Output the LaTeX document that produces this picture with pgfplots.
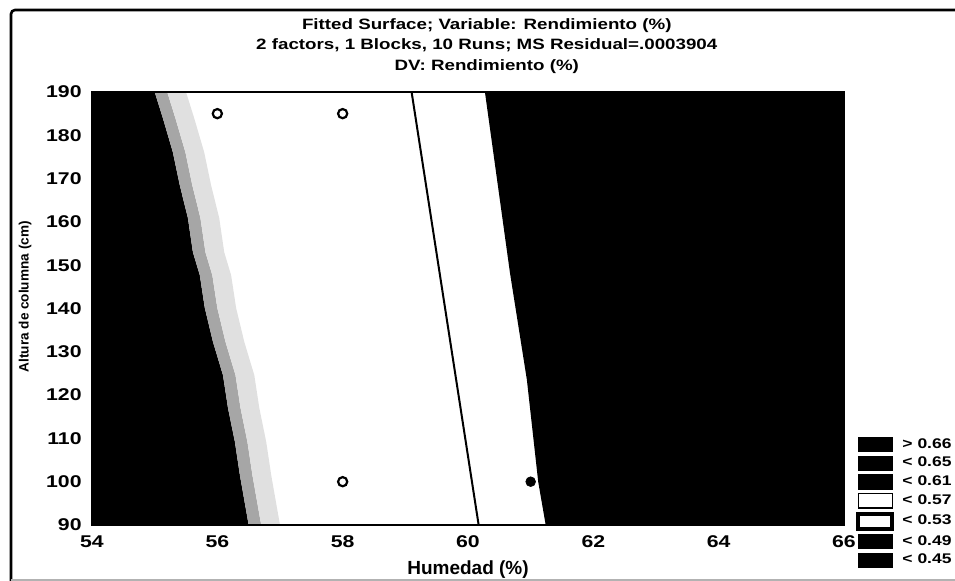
\documentclass[border=0pt]{standalone}
\usepackage{pgfplots}
\pgfplotsset{compat=1.18}
\usepackage{fontspec}
\setmainfont{Liberation Sans}
\newfontfamily\wide{Liberation Sans}[FakeStretch=1.25]
\usetikzlibrary{calc}

\begin{document}
\begin{tikzpicture}
\begin{axis}[
  scale only axis,
  width=376pt, height=216.5pt,
  xmin=54, xmax=66, ymin=90, ymax=190,
  xtick={54,56,...,66}, ytick={90,100,...,190},
  major tick length=0pt,
  axis line style={line width=1.1pt},
  axis on top,
  /pgf/number format/assume math mode=true,
  ticklabel style={font=\wide\bfseries\fontsize{8.5}{9}\selectfont, inner sep=0pt},
  xticklabel shift=5pt, yticklabel shift=5pt,
  title={Fitted Surface; Variable: Rendimiento (\%)\\2 factors, 1 Blocks, 10 Runs; MS Residual=.0003904\\DV: Rendimiento (\%)},
  title style={at={(0.525,1.014)}, anchor=south, inner sep=0pt, align=center,
    font=\wide\bfseries\fontsize{7.5}{10.25}\selectfont},
  xlabel={Humedad (\%)},
  xlabel style={at={(0.5,-0.104)}, anchor=center, inner sep=0pt, font=\bfseries\fontsize{9.5}{10}\selectfont},
  ylabel={Altura de columna (cm)},
  ylabel style={at={(-0.089,0.527)}, anchor=center, inner sep=0pt, font=\bfseries\fontsize{6.8}{7}\selectfont},
  legend image code/.code={\draw[#1] (0pt,-3.6pt) rectangle (17pt,3.6pt);},
  legend cell align=left,
  legend style={at={(1.0160,-0.100)}, anchor=south west, draw=none, fill=none,
    inner sep=0pt, row sep=1.7pt, column sep=4pt,
    nodes={inner sep=0pt},
    font=\wide\bfseries\fontsize{7}{8}\selectfont},
]
% left region (high yield)
\addplot[fill=black, draw=none, forget plot] coordinates {
  (54,90) (54,190) (55.00,190) (55.13,184) (55.29,176.1) (55.40,168.5) (55.53,160.9)
  (55.61,153.0) (55.72,147.7) (55.80,140.1) (55.93,132.3) (56.09,124.6) (56.17,117.0)
  (56.28,109.2) (56.36,101.5) (56.50,90)
} -- cycle;
% speckled transition band
\addplot[fill=black!35, draw=none, forget plot] coordinates {
  (55.00,190) (55.13,184) (55.29,176.1) (55.40,168.5) (55.53,160.9) (55.61,153.0)
  (55.72,147.7) (55.80,140.1) (55.93,132.3) (56.09,124.6) (56.17,117.0) (56.28,109.2)
  (56.36,101.5) (56.50,90)
  (56.70,90) (56.56,101.5) (56.48,109.2) (56.37,117.0) (56.29,124.6) (56.13,132.3)
  (56.00,140.1) (55.92,147.7) (55.81,153.0) (55.73,160.9) (55.60,168.5) (55.49,176.1)
  (55.33,184) (55.20,190)
} -- cycle;
\addplot[fill=black!12, draw=none, forget plot] coordinates {
  (55.20,190) (55.33,184) (55.49,176.1) (55.60,168.5) (55.73,160.9) (55.81,153.0)
  (55.92,147.7) (56.00,140.1) (56.13,132.3) (56.29,124.6) (56.37,117.0) (56.48,109.2)
  (56.56,101.5) (56.70,90)
  (57.00,90) (56.86,101.5) (56.78,109.2) (56.67,117.0) (56.59,124.6) (56.43,132.3)
  (56.30,140.1) (56.22,147.7) (56.11,153.0) (56.03,160.9) (55.90,168.5) (55.79,176.1)
  (55.63,184) (55.50,190)
} -- cycle;
% right region
\addplot[fill=black, draw=none, forget plot] coordinates {
  (60.27,190) (66,190) (66,90) (61.24,90) (61.12,100) (60.94,123.5) (60.67,148.2)
} -- cycle;
% contour line between the two light bands
\addplot[black, line width=1pt, forget plot] coordinates {(59.10,190) (60.17,90)};
% design points
\addplot[only marks, mark=o, mark size=2.3pt, line width=1.1pt, forget plot]
  coordinates {(56,185) (58,185) (58,100)};
\addplot[only marks, mark=*, mark size=2.4pt, fill=black, forget plot]
  coordinates {(61,100)};

\addlegendimage{fill=black, draw=black}
\addlegendentry{> 0.66}
\addlegendimage{fill=black, draw=black}
\addlegendentry{< 0.65}
\addlegendimage{fill=black, draw=black}
\addlegendentry{< 0.61}
\addlegendimage{fill=white, draw=black, line width=0.8pt}
\addlegendentry{< 0.57}
\addlegendimage{fill=white, draw=black, line width=2pt}
\addlegendentry{< 0.53}
\addlegendimage{fill=black, draw=black}
\addlegendentry{< 0.49}
\addlegendimage{fill=black, draw=black}
\addlegendentry{< 0.45}
\end{axis}
\coordinate (SW) at (current axis.south west);
\coordinate (NE) at (current axis.north east);
\draw[line width=1.3pt, rounded corners=2pt]
  ($(SW)+(-40.5pt,-28pt)$) |- ($(NE)+(55.5pt,41pt)$);
\draw[gray!60, line width=0.6pt]
  ($(SW)+(-40.5pt,-27.5pt)$) -- ($(NE|-SW)+(55.5pt,-27.5pt)$);
\pgfresetboundingbox
\path[use as bounding box] ($(SW)+(-46pt,-28pt)$) rectangle ($(NE)+(55.5pt,46pt)$);
\end{tikzpicture}
\end{document}
